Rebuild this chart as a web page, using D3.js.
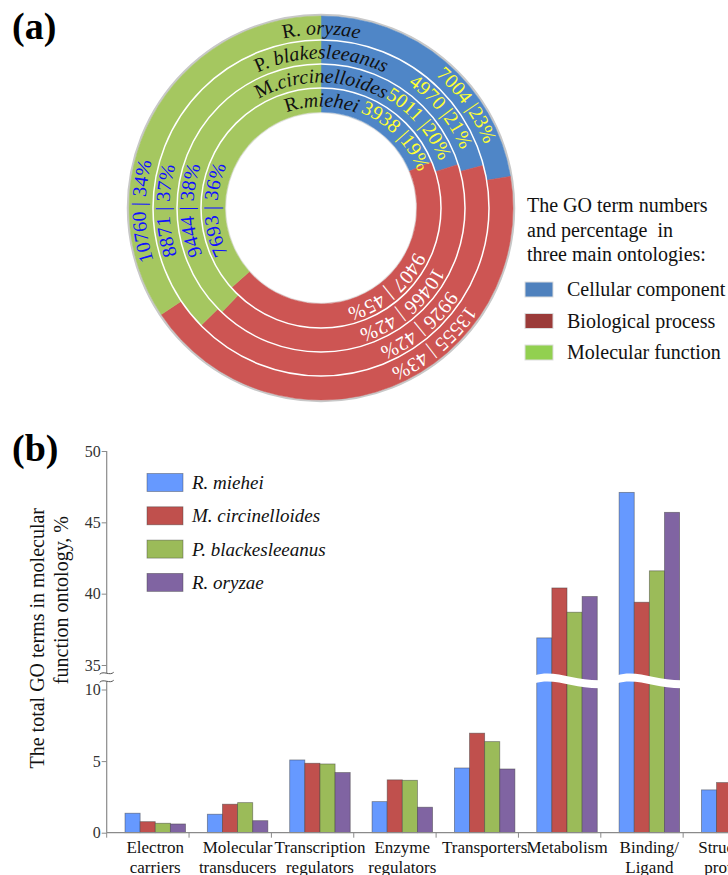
<!DOCTYPE html>
<html>
<head>
<meta charset="utf-8">
<script src="https://cdn.jsdelivr.net/npm/d3@7"></script>
<style>
  body { margin: 0; background: #fff; }
  svg { display: block; font-family: "Liberation Serif", "Times New Roman", serif; }
</style>
</head>
<body>
<div id="chart"></div>
<script>
// (a) GO term numbers per ontology, rings from inner to outer
const species = ["R.miehei", "M.circinelloides", "P. blakesleeanus", "R. oryzae"]
const ontologies = ["Cellular component", "Biological process", "Molecular function"]
const ccCounts = [3938, 5011, 4970, 7004]
const bpCounts = [9407, 10466, 9926, 13555]
const mfCounts = [7693, 9444, 8871, 10760]
const ccPct = [19, 20, 21, 23]
const bpPct = [45, 42, 42, 43]
const mfPct = [36, 38, 37, 34]

// (b) molecular function categories
const categories = [["Electron", "carriers"], ["Molecular", "transducers"], ["Transcription", "regulators"],
  ["Enzyme", "regulators"], ["Transporters"], ["Metabolism"], ["Binding/", "Ligand"], ["Structural", "proteins"]]
const seriesNames = ["R. miehei", "M. circinelloides", "P. blackesleeanus", "R. oryzae"]
const rMiehei = [1.36, 1.29, 5.08, 2.17, 4.52, 36.9, 47.1, 2.99]
const mCircinelloides = [0.77, 1.99, 4.85, 3.69, 6.95, 40.4, 39.4, 3.50]
const pBlakesleeanus = [0.66, 2.10, 4.80, 3.66, 6.36, 38.7, 41.6, 3.3]
const rOryzae = [0.61, 0.84, 4.20, 1.78, 4.45, 39.8, 45.7, 2.9]
const yTicks = [0, 5, 10, 35, 40, 45, 50]

const width = 728, height = 875
const svg = d3.select("#chart").append("svg")
  .attr("width", width).attr("height", height)
  .attr("viewBox", [0, 0, width, height])
  .attr("font-family", "Liberation Serif, Times New Roman, serif")

// panel letters
svg.append("text").attr("x", 12).attr("y", 39).attr("font-size", 38).attr("font-weight", "bold").text("(a)")
svg.append("text").attr("x", 12).attr("y", 461).attr("font-size", 38).attr("font-weight", "bold").text("(b)")

// ---------- (a) doughnut ----------
const cx = 321, cy = 208, r0 = 96, ringW = 24
const donutColor = ["#4f86c7", "#cd5553", "#a5c760"]
const legendColor = ["#4f81bd", "#9b3b39", "#92d050"]
const labelFill = ["#ffff33", "#ffffff", "#1010ff"]

const donut = svg.append("g").attr("transform", `translate(${cx},${cy})`)
const pie = d3.pie().sort(null).value(d => d.count)

// faint shadow round the outside
donut.append("circle").attr("r", r0 + 4 * ringW + 1).attr("fill", "none")
  .attr("stroke", "#c8c8c8").attr("stroke-width", 2.5)
donut.append("circle").attr("r", r0 - 0.5).attr("fill", "none")
  .attr("stroke", "#e4e4e4").attr("stroke-width", 1.5)

// full circle path starting at the bottom, running clockwise
const circlePath = r => `M0,${r}A${r},${r} 0 1 1 0,${-r}A${r},${r} 0 1 1 0,${r}`
const offsetAt = (a, r) => {
  let t = a > Math.PI ? a - 2 * Math.PI : a
  return (t + Math.PI) * r
}

species.forEach((name, i) => {
  const rows = [
    { count: ccCounts[i], pct: ccPct[i], k: 0 },
    { count: bpCounts[i], pct: bpPct[i], k: 1 },
    { count: mfCounts[i], pct: mfPct[i], k: 2 }
  ]
  const inner = r0 + i * ringW, outer = inner + ringW
  const arc = d3.arc().innerRadius(inner).outerRadius(outer)
  const arcs = pie(rows)

  donut.append("g").selectAll("path").data(arcs).join("path")
    .attr("d", arc)
    .attr("fill", d => donutColor[d.data.k])
    .attr("stroke", d => donutColor[d.data.k]).attr("stroke-width", 0.5)

  const mid = (inner + outer) / 2
  const rName = mid - 6.5, rVal = mid - 4.5
  donut.append("path").attr("id", "name" + i).attr("d", circlePath(rName)).attr("fill", "none")
  donut.append("path").attr("id", "val" + i).attr("d", circlePath(rVal)).attr("fill", "none")

  // species name, centred at 12 o'clock
  const m = name.match(/^([A-Z]\.\s?)(.*)$/)
  const t = donut.append("text").attr("font-size", 20).attr("fill", "#111")
    .append("textPath").attr("href", "#name" + i)
    .attr("startOffset", offsetAt(0, rName)).attr("text-anchor", "middle")
  t.append("tspan").text(m[1])
  t.append("tspan").attr("font-style", "italic").text(m[2])

  // value labels
  const angleOf = [
    d => d.startAngle + 0.68 * (d.endAngle - d.startAngle),
    d => 140 * Math.PI / 180,
    d => 269 * Math.PI / 180
  ]
  arcs.forEach(d => {
    const k = d.data.k
    const txt = k === 0 ? `${d.data.count} |${d.data.pct}%` : `${d.data.count} | ${d.data.pct}%`
    donut.append("text").attr("font-size", 20).attr("fill", labelFill[k])
      .append("textPath").attr("href", "#val" + i)
      .attr("startOffset", offsetAt(angleOf[k](d), rVal)).attr("text-anchor", "middle")
      .text(txt)
  })
})

// ring separators
donut.selectAll("circle.sep").data([1, 2, 3]).join("circle").attr("class", "sep")
  .attr("r", i => r0 + i * ringW).attr("fill", "none")
  .attr("stroke", "#fff").attr("stroke-width", 1.5)

// legend (a)
const lgA = svg.append("g").attr("font-size", 20).attr("fill", "#111")
;["The GO term numbers", "and percentage  in", "three main ontologies:"].forEach((s, i) => {
  lgA.append("text").attr("x", 527).attr("y", 212 + i * 24.5).attr("xml:space", "preserve").text(s)
})
ontologies.forEach((o, i) => {
  lgA.append("rect").attr("x", 525).attr("y", 282 + i * 31.5).attr("width", 28).attr("height", 15)
    .attr("fill", legendColor[i]).attr("stroke", "#ddd").attr("stroke-width", 1)
  lgA.append("text").attr("x", 567).attr("y", 296 + i * 31.5).text(o)
})

// ---------- (b) bar chart with broken axis ----------
const x0 = 106.7, bandW = 82.35
const x = d3.scaleBand().domain(d3.range(categories.length))
  .range([x0, x0 + bandW * categories.length]).padding(0)
const xs = d3.scaleBand().domain(seriesNames).range([18.3, 78.8]).padding(0)
const y = d3.scaleLinear().domain([0, 10, 35, 50]).range([832.7, 689.5, 665, 451])
const barColor = ["#6699ff", "#c0504d", "#9bbb59", "#8064a2"]
const series = [rMiehei, mCircinelloides, pBlakesleeanus, rOryzae]

const bars = svg.append("g")
series.forEach((vals, s) => {
  bars.append("g").selectAll("rect").data(vals).join("rect")
    .attr("x", (v, i) => x(i) + xs(seriesNames[s]))
    .attr("y", v => y(v))
    .attr("width", xs.bandwidth())
    .attr("height", v => y(0) - y(v))
    .attr("fill", barColor[s])
    .attr("stroke", "rgba(60,60,60,0.55)").attr("stroke-width", 0.8)
})

// wavy white cut through bars that cross the break
const yMid = (y(10) + y(35)) / 2
categories.forEach((c, i) => {
  const vmax = d3.max(series, s => s[i])
  if (vmax <= 10) return
  const a = x(i) + xs.range()[0] - 2, b = x(i) + xs.range()[1] + 2, w = b - a
  const p = d3.path()
  p.moveTo(a, yMid - 2)
  p.bezierCurveTo(a + 0.3 * w, yMid - 8, a + 0.6 * w, yMid + 3, b, yMid + 3)
  p.lineTo(b, yMid + 11)
  p.bezierCurveTo(a + 0.6 * w, yMid + 11, a + 0.3 * w, yMid, a, yMid + 6)
  p.closePath()
  svg.append("path").attr("d", p.toString()).attr("fill", "#fff")
})

// y axis
const axisColor = "#8a8a8a"
const yAxis = svg.append("g").attr("transform", `translate(${x0},0)`)
  .call(d3.axisLeft(y).tickValues(yTicks).tickSize(5).tickFormat(d3.format("d")))
yAxis.attr("font-family", "Liberation Serif, serif")
yAxis.select(".domain").remove()
yAxis.selectAll(".tick line").attr("stroke", axisColor)
yAxis.selectAll(".tick text").attr("font-size", 16).attr("fill", "#333").attr("x", -6)
svg.append("line").attr("x1", x0).attr("x2", x0).attr("y1", y(0)).attr("y2", yMid + 4)
  .attr("stroke", axisColor).attr("stroke-width", 1.2)
svg.append("line").attr("x1", x0).attr("x2", x0).attr("y1", yMid - 4).attr("y2", y(50))
  .attr("stroke", axisColor).attr("stroke-width", 1.2)
;[-4, 4].forEach(dy => {
  svg.append("path")
    .attr("d", `M${x0 - 7},${yMid + dy + 1}C${x0 - 3},${yMid + dy - 3} ${x0 + 3},${yMid + dy + 3} ${x0 + 7},${yMid + dy - 1}`)
    .attr("fill", "none").attr("stroke", "#555").attr("stroke-width", 1)
})

// x axis
svg.append("line").attr("x1", x0).attr("x2", width + 40).attr("y1", y(0)).attr("y2", y(0))
  .attr("stroke", axisColor).attr("stroke-width", 1.2)
svg.append("g").selectAll("line").data(d3.range(categories.length + 1)).join("line")
  .attr("x1", i => x0 + i * bandW).attr("x2", i => x0 + i * bandW)
  .attr("y1", y(0)).attr("y2", y(0) + 5)
  .attr("stroke", axisColor)

const xl = svg.append("g").attr("font-size", 17).attr("fill", "#111").attr("text-anchor", "middle")
categories.forEach((lines, i) => {
  const cxl = x(i) + (xs.range()[0] + xs.range()[1]) / 2
  lines.forEach((s, j) => {
    xl.append("text").attr("x", cxl).attr("y", 853 + j * 20).text(s)
  })
})

// y title, two rotated lines
const yt = svg.append("g").attr("font-size", 20).attr("fill", "#111").attr("text-anchor", "end")
yt.append("text").attr("transform", "translate(44,508) rotate(-90)").text("The total GO terms in molecular")
yt.append("text").attr("transform", "translate(68,516) rotate(-90)").text("function ontology, %")

// legend (b)
const lgB = svg.append("g").attr("font-size", 19).attr("font-style", "italic").attr("fill", "#111")
seriesNames.forEach((s, i) => {
  lgB.append("rect").attr("x", 147).attr("y", 473.5 + i * 33.3).attr("width", 36).attr("height", 18)
    .attr("fill", barColor[i]).attr("stroke", "rgba(60,60,60,0.5)").attr("stroke-width", 0.8)
  lgB.append("text").attr("x", 192).attr("y", 489 + i * 33.3).text(s)
})
</script>
</body>
</html>
